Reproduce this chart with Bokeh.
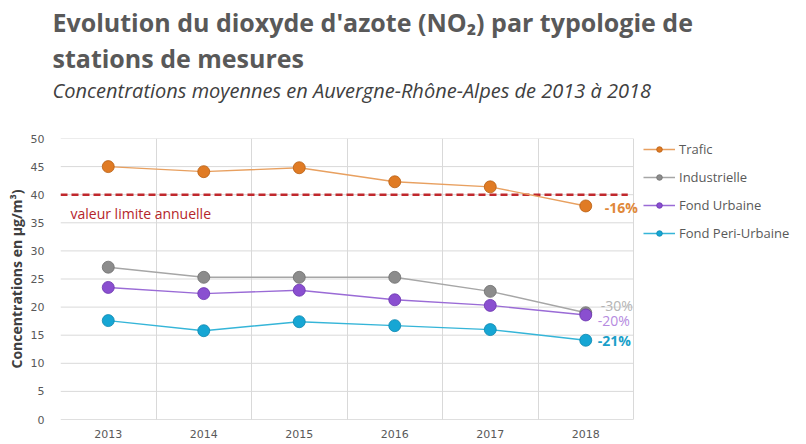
from bokeh.plotting import figure
from bokeh.models import Label, Legend, LegendItem, FixedTicker, ColumnDataSource, Title
from bokeh.embed import file_html
from bokeh.resources import INLINE

# ---- data ----
years = [2013, 2014, 2015, 2016, 2017, 2018]
series_names = ["Trafic", "Industrielle", "Fond Urbaine", "Fond Peri-Urbaine"]
trafic = [45.0, 44.1, 44.8, 42.3, 41.4, 38.0]
industrielle = [27.1, 25.3, 25.3, 25.3, 22.8, 19.0]
fond_urbaine = [23.5, 22.4, 23.0, 21.3, 20.3, 18.6]
fond_peri_urbaine = [17.6, 15.8, 17.4, 16.7, 16.0, 14.1]
pct_labels = ["-16%", "-30%", "-20%", "-21%"]
limit_value = 40
limit_label = "valeur limite annuelle"
y_ticks = [0, 5, 10, 15, 20, 25, 30, 35, 40, 45, 50]

title_line1 = "Evolution du dioxyde d'azote (NO\u2082) par typologie de"
title_line2 = "stations de mesures"
subtitle = "Concentrations moyennes en Auvergne-Rh\u00f4ne-Alpes de 2013 \u00e0 2018"
y_axis_title = "Concentrations en \u00b5g/m\u00b3)"

# ---- styles / layout ----
line_colors = ["#E8A060", "#A6A6A6", "#9A6BD6", "#35B5D8"]
marker_colors = ["#E07B24", "#8C8C8C", "#8A4FD0", "#16A6D4"]
marker_edges = ["#B85E12", "#6E6E6E", "#6A33AE", "#0C86AE"]
pct_colors = ["#E0883A", "#B4B4B4", "#B58AE0", "#1A9FC9"]
pct_styles = ["bold", "normal", "normal", "bold"]
pct_offsets = [(19, -2), (15, 7), (12, -6), (12, 0)]
GRID = "#D9D9D9"

W, H = 806, 444
LEFT, RIGHT_PLOT, TOP, BOTTOM = 60, 633, 138, 419
x0 = years[0] - 0.5
x_plot_end = years[-1] + 0.5
x_end = x0 + (x_plot_end - x0) * (W - LEFT) / (RIGHT_PLOT - LEFT)

p = figure(width=W, height=H, output_backend="svg", toolbar_location=None,
           x_range=(x0, x_end), y_range=(0, 50),
           min_border_left=LEFT, min_border_right=0, min_border_top=TOP,
           min_border_bottom=H - BOTTOM)
p.outline_line_color = None

# titles: p.title outermost; then line 2, subtitle, and a blank spacer nearest the frame
p.title.text = title_line1
p.title.text_font = "Open Sans"
p.title.text_font_style = "bold"
p.title.text_font_size = "25px"
p.title.text_color = "#595959"
p.title.offset = -8
p.title.standoff = 0
spacer = Title(text=" ", text_font="Open Sans", text_font_size="20px", standoff=6)
sub = Title(text=subtitle, text_font="Open Sans", text_font_style="italic",
            text_font_size="20px", text_color="#404040", offset=-8, standoff=0)
t2 = Title(text=title_line2, text_font="Open Sans", text_font_style="bold",
           text_font_size="25px", text_color="#595959", offset=-8, standoff=0)
p.add_layout(spacer, "above")
p.add_layout(sub, "above")
p.add_layout(t2, "above")

# grid: vertical separators (incl. plot borders) and horizontal lines within plot area
p.xgrid.ticker = FixedTicker(ticks=[x0 + i for i in range(len(years) + 1)])
p.xgrid.grid_line_color = GRID
p.ygrid.grid_line_color = None
p.segment(x0=[x0] * len(y_ticks), x1=[x_plot_end] * len(y_ticks), y0=y_ticks, y1=y_ticks,
          line_color=[("#BFBFBF" if v == 0 else GRID) for v in y_ticks], line_width=1)

p.xaxis.ticker = FixedTicker(ticks=years)
p.yaxis.ticker = FixedTicker(ticks=y_ticks)
for ax in (p.xaxis[0], p.yaxis[0]):
    ax.major_tick_line_color = None
    ax.minor_tick_line_color = None
    ax.major_tick_out = 0
    ax.axis_line_color = None
    ax.major_label_text_font = "DejaVu Sans"
    ax.major_label_text_font_size = "11px"
    ax.major_label_text_color = "#595959"
p.xaxis.major_label_standoff = 10
p.yaxis.major_label_standoff = 16
p.yaxis.axis_label = y_axis_title
p.yaxis.axis_label_text_font = "Open Sans"
p.yaxis.axis_label_text_font_style = "bold"
p.yaxis.axis_label_text_font_size = "14px"
p.yaxis.axis_label_text_color = "#404040"
p.yaxis.axis_label_standoff = 2

# annual limit
p.segment(x0=[x0], x1=[x_plot_end - 0.06], y0=[limit_value], y1=[limit_value],
          line_color="#C0282D", line_dash="7 4", line_width=2.5)
p.add_layout(Label(x=x0, y=limit_value, text=limit_label, x_offset=10, y_offset=-19,
                   text_baseline="middle", text_font="Open Sans", text_font_size="14px",
                   text_color="#B5252A"))

all_series = [trafic, industrielle, fond_urbaine, fond_peri_urbaine]
items = []
for i, (name, vals) in enumerate(zip(series_names, all_series)):
    src = ColumnDataSource(dict(x=years, y=vals))
    r_line = p.line("x", "y", source=src, line_color=line_colors[i], line_width=1.4)
    r_mark = p.scatter("x", "y", source=src, size=12, fill_color=marker_colors[i],
                       line_color=marker_edges[i], line_width=0.8)
    items.append(LegendItem(label=name, renderers=[r_line, r_mark]))
    dx, dy = pct_offsets[i]
    p.add_layout(Label(x=years[-1], y=vals[-1], text=pct_labels[i], x_offset=dx, y_offset=dy,
                       text_baseline="middle", text_font="Open Sans", text_font_size="14px",
                       text_font_style=pct_styles[i], text_color=pct_colors[i]))

LEG_H = 101
legend = Legend(items=items, location=(643 - LEFT, BOTTOM - 141 - LEG_H), orientation="vertical",
                glyph_width=32, glyph_height=14, label_height=14, spacing=10,
                padding=0, margin=0, border_line_color=None, background_fill_alpha=0,
                label_text_font="Open Sans", label_text_font_size="13px",
                label_text_color="#595959", label_standoff=4)
p.add_layout(legend, "center")

open("out.html", "w").write(file_html(p, INLINE))
